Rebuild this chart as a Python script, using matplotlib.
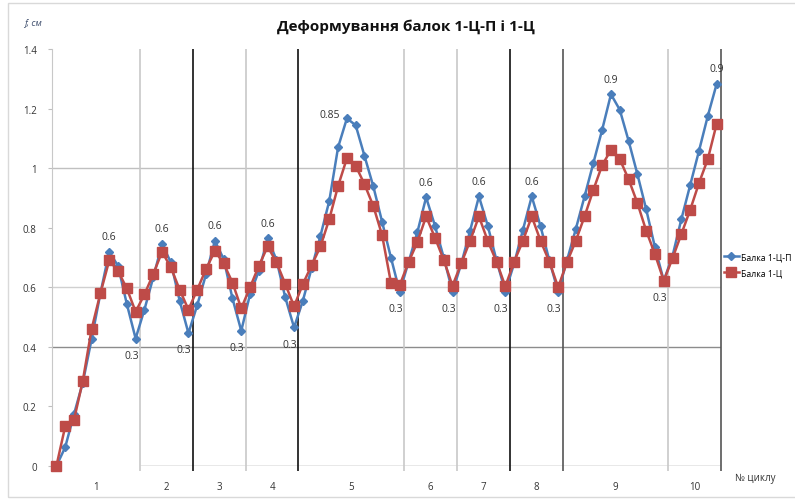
import matplotlib.pyplot as plt
from matplotlib.patches import Rectangle
import numpy as np

# Прогини балок (f, см) по точках навантаження
beam_cp = [0, 0.063, 0.174, 0.28, 0.426, 0.58, 0.719, 0.672, 0.544, 0.428,
           0.525, 0.633, 0.745, 0.684, 0.555, 0.446,
           0.54, 0.644, 0.756, 0.695, 0.563, 0.454,
           0.577, 0.655, 0.764, 0.692, 0.566, 0.465,
           0.555, 0.665, 0.773, 0.89, 1.07, 1.167, 1.144, 1.041, 0.939, 0.82, 0.70, 0.585,
           0.684, 0.784, 0.902, 0.807, 0.70, 0.585,
           0.68, 0.79, 0.905, 0.807, 0.69, 0.585,
           0.68, 0.793, 0.905, 0.805, 0.69, 0.585,
           0.69, 0.795, 0.905, 1.017, 1.129, 1.248, 1.196, 1.092, 0.98, 0.862, 0.734, 0.622,
           0.706, 0.829, 0.943, 1.058, 1.175, 1.282]
beam_c = [0, 0.133, 0.155, 0.286, 0.46, 0.58, 0.69, 0.655, 0.596, 0.518,
          0.576, 0.644, 0.719, 0.667, 0.592, 0.525,
          0.592, 0.661, 0.722, 0.68, 0.616, 0.529,
          0.60, 0.672, 0.737, 0.684, 0.611, 0.536,
          0.611, 0.674, 0.737, 0.829, 0.94, 1.033, 1.008, 0.946, 0.873, 0.775, 0.616, 0.607,
          0.684, 0.751, 0.838, 0.767, 0.692, 0.605,
          0.681, 0.756, 0.838, 0.756, 0.686, 0.603,
          0.686, 0.756, 0.838, 0.756, 0.686, 0.60,
          0.684, 0.756, 0.838, 0.927, 1.01, 1.061, 1.03, 0.963, 0.883, 0.79, 0.711, 0.622,
          0.698, 0.779, 0.86, 0.95, 1.03, 1.148]

# кількість точок у кожному циклі
cycle_len = [10, 6, 6, 6, 12, 6, 6, 6, 12, 6]
cycle_names = ['1', '2', '3', '4', '5', '6', '7', '8', '9', '10']

# підписи навантаження біля точок балки 1-Ц-П
label_idx = [6, 9, 12, 15, 18, 21, 24, 27, 33, 39, 42, 45, 48, 51, 54, 57, 63, 69, 75]
label_text = ['0.6', '0.3', '0.6', '0.3', '0.6', '0.3', '0.6', '0.3', '0.85', '0.3',
              '0.6', '0.3', '0.6', '0.3', '0.6', '0.3', '0.9', '0.3', '0.9']

blue = '#4A7EBB'
red = '#BE4B48'
divider_colors = ['#c8c8c8', '#111111', '#c8c8c8', '#111111', '#c8c8c8',
                  '#c8c8c8', '#111111', '#555555', '#c8c8c8', '#555555']

plt.rcParams['font.family'] = ['Open Sans', 'DejaVu Sans']

fig = plt.figure(figsize=(7.95, 5.02), dpi=100)
ax = fig.add_axes([52 / 795, 35 / 502, 669 / 795, 417 / 502])

# рамка діаграми
fig.patches.append(Rectangle((8 / 795, 4 / 502), 1.0, 0.985, transform=fig.transFigure,
                             fill=False, edgecolor='#d9d9d9', linewidth=1))

x = np.arange(len(beam_cp))
n = len(beam_cp)

# горизонтальні лінії сітки
for yv, col in [(0.4, '#8c8c8c'), (0.6, '#d0d0d0'), (1.0, '#c0c0c0')]:
    ax.axhline(yv, color=col, linewidth=1, zorder=1)

bounds = np.cumsum(cycle_len) - 0.5
starts = np.concatenate([[-0.5], bounds[:-1]])
ax.hlines(0, bounds[0], bounds[-1], color='#8c8c8c', linewidth=1, zorder=1)
for b, col in zip(bounds, divider_colors):
    ax.vlines(b, -0.018, 1.4, color=col, linewidth=1.2, zorder=1, clip_on=False)

ax.plot(x, beam_cp, color=blue, marker='D', markersize=4.5, linewidth=1.8,
        label='Балка 1-Ц-П', zorder=3, clip_on=False)
ax.plot(x, beam_c, color=red, marker='s', markersize=6.5, linewidth=1.8,
        label='Балка 1-Ц', zorder=4, clip_on=False)

for i, t in zip(label_idx, label_text):
    if t == '0.3':
        off, ha, va = (-3, -8), 'center', 'top'
    elif t == '0.85':
        off, ha, va = (-5, 3), 'right', 'center'
    else:
        off, ha, va = (0, 7), 'center', 'bottom'
    ax.annotate(t, (x[i], beam_cp[i]), xytext=off, textcoords='offset points',
                ha=ha, va=va, fontsize=7.5, color='#333333', zorder=5)

ax.set_xlim(-0.5, n - 0.5)
ax.set_ylim(0, 1.4)
ax.set_yticks(np.arange(0, 1.41, 0.2))
ax.set_yticklabels(['0', '0.2', '0.4', '0.6', '0.8', '1', '1.2', '1.4'])
ax.set_xticks((starts + bounds) / 2)
ax.set_xticklabels(cycle_names)
ax.tick_params(axis='x', length=0, pad=11, labelsize=7, labelcolor='#333333')
ax.tick_params(axis='y', length=3, color='#bfbfbf', pad=8, labelsize=7, labelcolor='#333333')

for s in ['top', 'right', 'bottom']:
    ax.spines[s].set_visible(False)
ax.spines['left'].set_color('#c8c8c8')

fig.text(406 / 795, 1 - 27 / 502, 'Деформування балок 1-Ц-П і 1-Ц', ha='center', va='center',
         fontsize=11, fontweight='bold', color='#111111')
fig.text(24 / 795, 1 - 23 / 502, 'f, см', ha='left', va='center', fontsize=6.5,
         color='#3a4a6a', style='italic')
fig.text(735 / 795, 1 - 479 / 502, '№ циклу', ha='left', va='center', fontsize=7,
         color='#333333')

ax.legend(loc='upper left', bbox_to_anchor=(724 / 795, 1 - 253 / 502),
          bbox_transform=fig.transFigure, frameon=False, fontsize=6.3,
          handlelength=1.7, handletextpad=0.25, labelspacing=0.8, borderaxespad=0,
          borderpad=0)

fig.savefig('out.png', dpi=100)
plt.close(fig)
